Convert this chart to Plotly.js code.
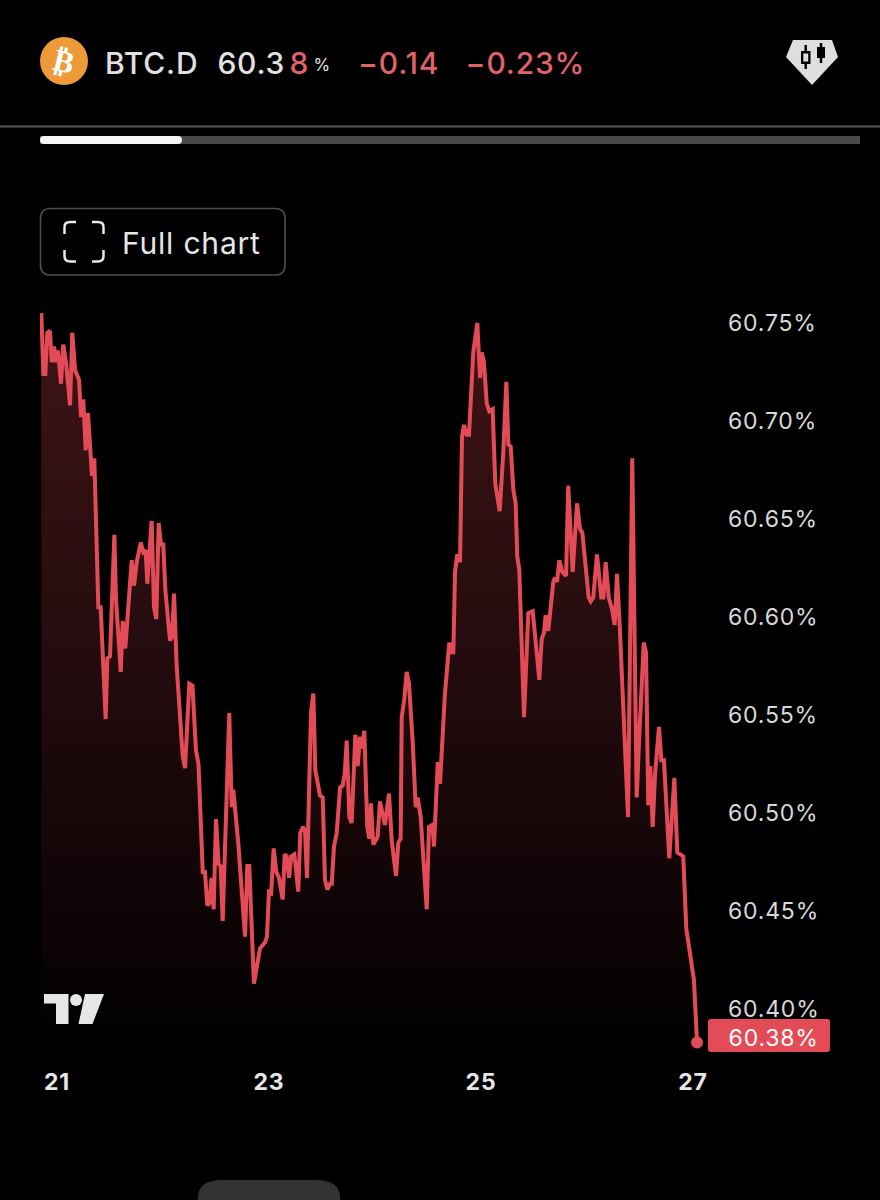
<!DOCTYPE html>
<html>
<head>
<meta charset="utf-8">
<script src="https://cdn.plot.ly/plotly-3.0.1.min.js"></script>
<style>
html,body{margin:0;padding:0;background:#000;}
#chart{width:880px;height:1200px;}
#chart svg text{letter-spacing:.8px;font-variant-numeric:tabular-nums;}
</style>
</head>
<body>
<div id="chart"></div>
<script>
var days = [20.852,20.871,20.890,20.908,20.934,20.950,20.972,20.991,21.009,21.038,21.059,21.085,21.123,21.144,21.170,21.208,21.226,21.248,21.271,21.292,21.330,21.352,21.390,21.412,21.459,21.475,21.500,21.522,21.541,21.557,21.601,21.620,21.644,21.705,21.726,21.752,21.790,21.814,21.837,21.852,21.893,21.915,21.937,21.959,21.981,22.003,22.022,22.066,22.085,22.104,22.129,22.186,22.208,22.248,22.278,22.311,22.335,22.375,22.396,22.418,22.437,22.459,22.478,22.500,22.525,22.544,22.563,22.625,22.648,22.663,22.710,22.774,22.795,22.814,22.858,22.915,22.962,22.981,23.000,23.019,23.044,23.069,23.094,23.129,23.148,23.167,23.189,23.210,23.239,23.276,23.295,23.321,23.340,23.358,23.396,23.418,23.437,23.481,23.507,23.528,23.550,23.575,23.592,23.613,23.639,23.670,23.695,23.714,23.733,23.758,23.780,23.814,23.837,23.858,23.877,23.899,23.927,23.946,23.962,23.984,24.025,24.047,24.094,24.132,24.158,24.198,24.220,24.242,24.252,24.276,24.299,24.321,24.356,24.384,24.403,24.431,24.488,24.509,24.541,24.557,24.592,24.613,24.639,24.660,24.701,24.714,24.739,24.755,24.776,24.802,24.821,24.840,24.865,24.887,24.927,24.965,24.991,25.007,25.028,25.054,25.078,25.110,25.135,25.176,25.210,25.239,25.258,25.280,25.305,25.327,25.342,25.361,25.406,25.446,25.488,25.550,25.573,25.594,25.610,25.635,25.682,25.698,25.717,25.739,25.767,25.802,25.823,25.865,25.906,25.934,25.956,26.016,26.035,26.059,26.094,26.135,26.154,26.176,26.205,26.236,26.261,26.283,26.311,26.387,26.427,26.469,26.493,26.535,26.557,26.578,26.597,26.620,26.642,26.679,26.701,26.726,26.776,26.824,26.852,26.877,26.908,26.937,26.972,27.009,27.038];
var dominance = [60.755,60.724,60.724,60.745,60.746,60.730,60.738,60.730,60.736,60.719,60.739,60.730,60.708,60.745,60.726,60.721,60.702,60.711,60.685,60.704,60.672,60.681,60.605,60.605,60.548,60.579,60.580,60.610,60.642,60.609,60.572,60.598,60.584,60.629,60.616,60.628,60.638,60.633,60.634,60.617,60.649,60.605,60.599,60.648,60.637,60.637,60.614,60.588,60.590,60.612,60.575,60.529,60.523,60.566,60.565,60.532,60.525,60.470,60.470,60.453,60.454,60.467,60.451,60.497,60.474,60.473,60.445,60.551,60.503,60.512,60.485,60.437,60.473,60.473,60.413,60.431,60.434,60.437,60.461,60.458,60.482,60.470,60.467,60.456,60.479,60.478,60.467,60.478,60.479,60.460,60.490,60.493,60.491,60.467,60.551,60.561,60.522,60.509,60.508,60.466,60.461,60.464,60.464,60.483,60.490,60.513,60.514,60.520,60.537,60.498,60.495,60.540,60.524,60.539,60.533,60.542,60.493,60.487,60.505,60.484,60.488,60.506,60.494,60.510,60.486,60.468,60.485,60.487,60.549,60.558,60.572,60.566,60.536,60.503,60.508,60.498,60.451,60.493,60.494,60.483,60.526,60.515,60.543,60.561,60.587,60.582,60.582,60.623,60.632,60.628,60.692,60.698,60.693,60.693,60.735,60.750,60.722,60.735,60.730,60.709,60.705,60.706,60.668,60.654,60.684,60.720,60.688,60.687,60.665,60.658,60.631,60.624,60.549,60.602,60.603,60.568,60.589,60.592,60.601,60.593,60.618,60.620,60.618,60.629,60.623,60.621,60.667,60.623,60.658,60.645,60.643,60.610,60.608,60.610,60.632,60.610,60.610,60.628,60.610,60.604,60.596,60.622,60.593,60.498,60.681,60.508,60.539,60.587,60.582,60.504,60.524,60.493,60.520,60.544,60.527,60.527,60.477,60.518,60.480,60.479,60.478,60.441,60.428,60.415,60.383];
var xTicks = [21,23,25,27];
var yTicks = [60.40,60.45,60.50,60.55,60.60,60.65,60.70,60.75];
var lastPriceLabel = "60.38%";

var W=880,H=1200,L=40,R=705,T=300,B=1052;
var RED="#E34C56",GREY="#E2E2E2",SOFTRED="#E0626A";
function X(p){return (p-L)/(R-L);}
function Y(p){return 1-(p-T)/(B-T);}
function P(pts){
  return pts.map(function(c){
    var s=c[0];
    for(var i=1;i<c.length;i+=2){s+=' '+X(c[i]).toFixed(5)+','+Y(c[i+1]).toFixed(5);}
    return s;
  }).join(' ');
}
function RR(x0,y0,x1,y1,r){
  return P([['M',x0+r,y0],['L',x1-r,y0],['Q',x1,y0,x1,y0+r],['L',x1,y1-r],['Q',x1,y1,x1-r,y1],['L',x0+r,y1],['Q',x0,y1,x0,y1-r],['L',x0,y0+r],['Q',x0,y0,x0+r,y0],['Z']]);
}
function shapePath(path,fill,line,w){
  return {type:'path',xref:'paper',yref:'paper',path:path,fillcolor:fill||'rgba(0,0,0,0)',line:{color:line||'rgba(0,0,0,0)',width:w||0},layer:'above'};
}
function shapeLine(x0,y0,x1,y1,c,w){
  return {type:'line',xref:'paper',yref:'paper',x0:X(x0),y0:Y(y0),x1:X(x1),y1:Y(y1),line:{color:c,width:w},layer:'above'};
}
function box(x0,y0,x1,y1,c){
  return {type:'rect',xref:'paper',yref:'paper',x0:X(x0),x1:X(x1),y0:Y(y0),y1:Y(y1),fillcolor:c,line:{width:0},layer:'above'};
}
function note(t,x,y,size,color,extra){
  var a={text:t,xref:'paper',yref:'paper',x:X(x),y:Y(y),xanchor:'left',yanchor:'middle',showarrow:false,
         font:{family:'Inter, Roboto, sans-serif',size:size,color:color}};
  for(var k in (extra||{})){a[k]=extra[k];}
  return a;
}

var shapes=[
  {type:'circle',xref:'paper',yref:'paper',x0:X(40),x1:X(88),y0:Y(37),y1:Y(85),fillcolor:'#EE9A39',line:{width:0},layer:'above'},
  shapePath(P([['M',793,40],['L',832,40],['L',838,57],['L',812,85],['L',786,57],['Z']]),'#DEDEDE'),
  shapeLine(805.7,45,805.7,69,'#000',2.5),
  box(801,51,810.5,64,'#000'),
  box(803.3,53.5,808.2,61.5,'#DEDEDE'),
  shapeLine(821,43,821,63,'#000',2.5),
  box(817,47,825,58,'#000'),
  shapeLine(0,126.5,880,126.5,'#565656',2),
  box(40,136,860,144,'#4A4A4A'),
  shapePath(RR(40,136,182,144,4),'#F5F5F5'),
  shapePath(RR(40.5,208.5,285,275,10),'#000','#4C4C4C',1.6),
  shapePath(P([['M',64.5,234],['L',64.5,227],['Q',64.5,222,70,222],['L',76,222]]),null,'#E8E8E8',2.5),
  shapePath(P([['M',92,222],['L',98,222],['Q',103.5,222,103.5,227],['L',103.5,234]]),null,'#E8E8E8',2.5),
  shapePath(P([['M',64.5,250],['L',64.5,256],['Q',64.5,261.5,70,261.5],['L',76,261.5]]),null,'#E8E8E8',2.5),
  shapePath(P([['M',92,261.5],['L',98,261.5],['Q',103.5,261.5,103.5,256],['L',103.5,250]]),null,'#E8E8E8',2.5),
  shapePath(P([['M',44,994],['L',68.5,994],['L',68.5,1024],['L',56,1024],['L',56,1003.5],['L',44,1003.5],['Z']]),'#E6E6E6'),
  {type:'circle',xref:'paper',yref:'paper',x0:X(70),x1:X(82),y0:Y(994),y1:Y(1006),fillcolor:'#E6E6E6',line:{width:0},layer:'above'},
  shapePath(P([['M',85,994],['L',104,994],['L',92.5,1024],['L',78.5,1024],['Z']]),'#E6E6E6'),
  shapePath(RR(708,1019,830,1052,3),RED),
  shapePath(P([['M',198,1200],['L',198,1198],['Q',198,1180,222,1180],['L',316,1180],['Q',340,1180,340,1198],['L',340,1200],['Z']]),'#333333')
];

var annotations=[
  note('₿',64,61,31,'#FFFFFF',{xanchor:'center',textangle:14,font:{family:'DejaVu Sans',size:31,color:'#FFFFFF',weight:700}}),
  note('BTC.D',105,62.5,30,GREY,{font:{family:'Inter, Roboto, sans-serif',size:30,color:GREY,weight:500}}),
  note('60.3',217,62.5,30,GREY,{font:{family:'Inter, Roboto, sans-serif',size:30,color:GREY,weight:500}}),
  note('8',288,62.5,30,SOFTRED,{font:{family:'Inter, Roboto, sans-serif',size:30,color:SOFTRED,weight:500}}),
  note('%',312,65,17,GREY),
  note('−0.14',358,62.5,30,SOFTRED,{font:{family:'Inter, Roboto, sans-serif',size:30,color:SOFTRED,weight:500}}),
  note('−0.23%',466,62.5,30,SOFTRED,{font:{family:'Inter, Roboto, sans-serif',size:30,color:SOFTRED,weight:500}}),
  note('Full chart',124,243.5,30,'#E6E6E6'),
  note(lastPriceLabel,729,1037.5,23,'#FFFFFF')
];

var traces=[
  {x:days,y:dominance,type:'scatter',mode:'lines',fill:'tozeroy',
   line:{color:RED,width:4,shape:'linear'},
   fillgradient:{type:'vertical',start:60.76,stop:60.38,
     colorscale:[[0,'#401416'],[0.4,'#280D0F'],[0.75,'#130507'],[1,'#000000']]},
   hoverinfo:'skip',showlegend:false},
  {x:[days[days.length-1]],y:[dominance[dominance.length-1]],type:'scatter',mode:'markers',
   marker:{color:RED,size:12},cliponaxis:false,hoverinfo:'skip',showlegend:false}
];

var layout={
  width:W,height:H,
  paper_bgcolor:'#000',plot_bgcolor:'#000',
  margin:{l:L,r:W-R,t:T,b:H-B,pad:0},
  showlegend:false,
  xaxis:{range:[20.8396,27.1132],tickmode:'array',tickvals:xTicks,ticktext:xTicks.map(String),
    showgrid:false,zeroline:false,showline:false,ticks:'',ticklabelstandoff:14,
    tickfont:{family:'Inter, Roboto, sans-serif',size:23,color:'#E6E6E6',weight:700}},
  yaxis:{range:[60.3782,60.7617],side:'right',tickmode:'array',tickvals:yTicks,
    ticktext:yTicks.map(function(v){return v.toFixed(2)+'%';}),
    showgrid:false,zeroline:false,showline:false,ticks:'',ticklabelstandoff:22,
    tickfont:{family:'Inter, Roboto, sans-serif',size:23,color:'#D8D8D8'}},
  shapes:shapes,annotations:annotations
};
Plotly.newPlot('chart',traces,layout,{displayModeBar:false,staticPlot:true});
</script>
</body>
</html>
